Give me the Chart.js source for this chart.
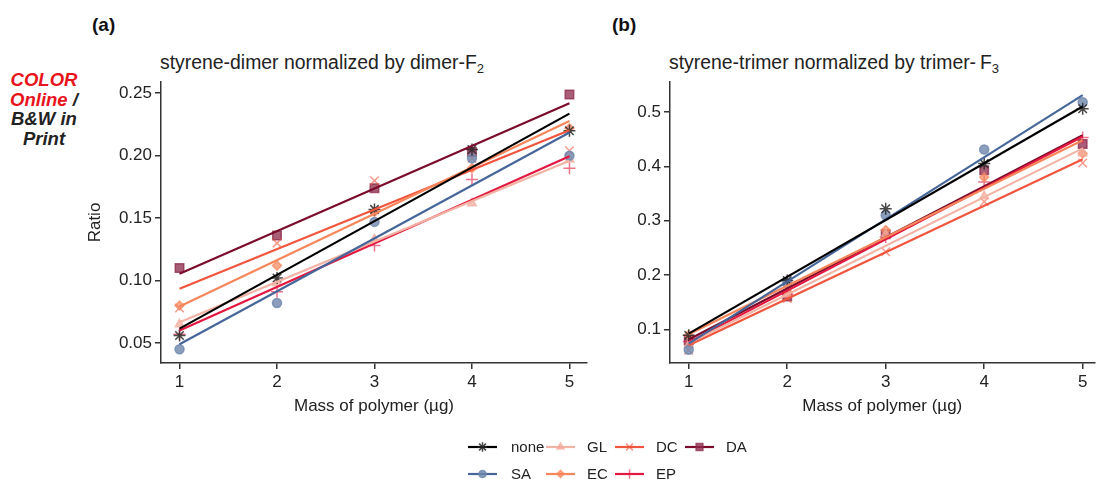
<!DOCTYPE html>
<html>
<head>
<meta charset="utf-8">
<script src="https://cdn.jsdelivr.net/npm/chart.js@4.4.1/dist/chart.umd.min.js"></script>
<style>
body { margin: 0; background: #fff; font-family: "Liberation Sans", Arial, sans-serif; color: #222; }
#wrap { position: relative; width: 1102px; height: 479px; overflow: hidden; }
canvas { position: absolute; }
.panel { position: absolute; font-weight: bold; font-size: 19px; color: #111; }
.title { position: absolute; font-size: 19.4px; color: #222; white-space: nowrap; }
.title sub { font-size: 13px; vertical-align: -4px; }
#note { position: absolute; left: 0; top: 70px; width: 88px; text-align: center;
        font-weight: bold; font-style: italic; font-size: 18.5px; line-height: 19.7px; color: #222; }
#note .red { color: #e8141c; }
</style>
</head>
<body>
<div id="wrap">
  <div id="note"><span class="red">COLOR</span><br><span class="red">Online</span> /<br>B&amp;W in<br>Print</div>
  <div class="panel" style="left:92px;top:14px;">(a)</div>
  <div class="panel" style="left:612px;top:14px;">(b)</div>
  <div class="title" style="left:160px;top:51px;">styrene-dimer normalized by dimer-F<sub>2</sub></div>
  <div class="title" style="left:669px;top:51px;">styrene-trimer normalized by trimer-&thinsp;F<sub>3</sub></div>
  <canvas id="chartA" width="600" height="430" style="left:0;top:0;"></canvas>
  <canvas id="chartB" width="502" height="430" style="left:600px;top:0;"></canvas>
  <canvas id="legend" width="340" height="49" style="left:440px;top:430px;"></canvas>
</div>
<script>
// x positions (mass of polymer, ug) and the ends of the fitted lines
const xValues = [1, 2, 3, 4, 5];
const fitX = [1, 5];

const seriesNames = ['none', 'SA', 'GL', 'EC', 'DC', 'EP', 'DA'];
const lineColors = ['#000000', '#46669a', '#f3b3a4', '#f7865a', '#f1553d', '#e3173f', '#7b0c2c'];
const markerColors = ['rgba(40,40,40,0.85)', 'rgba(110,135,172,0.8)', 'rgba(243,170,155,0.7)',
                      'rgba(247,134,90,0.7)', 'rgba(241,85,61,0.6)', 'rgba(227,23,63,0.6)', 'rgba(140,40,75,0.75)'];
const markerStyles = ['star', 'circle', 'triangle', 'rectRot', 'crossRot', 'cross', 'rect'];
const markerSizes = [6, 4.5, 5, 4.5, 6, 6, 6];

// (a) styrene-dimer / dimer-F2
const dimerNone = [0.056, 0.102, 0.157, 0.205, 0.220];
const dimerSA   = [0.045, 0.082, 0.147, 0.198, 0.200];
const dimerGL   = [0.065, 0.098, 0.133, 0.162, 0.197];
const dimerEC   = [0.080, 0.112, 0.155, 0.190, 0.222];
const dimerDC   = [0.078, 0.130, 0.180, 0.198, 0.204];
const dimerEP   = [0.057, 0.091, 0.128, 0.181, 0.190];
const dimerDA   = [0.110, 0.136, 0.174, 0.203, 0.249];

const dimerFitNone = [0.0615, 0.2337];
const dimerFitSA   = [0.049, 0.2185];
const dimerFitGL   = [0.0667, 0.196];
const dimerFitEC   = [0.0793, 0.2278];
const dimerFitDC   = [0.0935, 0.2204];
const dimerFitEP   = [0.060, 0.1995];
const dimerFitDA   = [0.1055, 0.242];

// (b) styrene-trimer / trimer-F3
const trimerNone = [0.0895, 0.190, 0.322, 0.405, 0.506];
const trimerSA   = [0.063, 0.185, 0.310, 0.431, 0.518];
const trimerGL   = [0.072, 0.165, 0.275, 0.345, 0.424];
const trimerEC   = [0.090, 0.170, 0.283, 0.380, 0.4235];
const trimerDC   = [0.062, 0.157, 0.243, 0.335, 0.406];
const trimerEP   = [0.078, 0.165, 0.270, 0.371, 0.453];
const trimerDA   = [0.080, 0.161, 0.275, 0.393, 0.441];

const trimerFitNone = [0.0926, 0.510];
const trimerFitSA   = [0.0743, 0.531];
const trimerFitGL   = [0.075, 0.433];
const trimerFitEC   = [0.0914, 0.448];
const trimerFitDC   = [0.071, 0.413];
const trimerFitEP   = [0.077, 0.455];
const trimerFitDA   = [0.0816, 0.457];

// tick labels
const xTicks = [1, 2, 3, 4, 5];
const yTicksA = [0.05, 0.10, 0.15, 0.20, 0.25];
const yTicksB = [0.1, 0.2, 0.3, 0.4, 0.5];

const dimerPoints = [dimerNone, dimerSA, dimerGL, dimerEC, dimerDC, dimerEP, dimerDA];
const dimerFits = [dimerFitNone, dimerFitSA, dimerFitGL, dimerFitEC, dimerFitDC, dimerFitEP, dimerFitDA];
const trimerPoints = [trimerNone, trimerSA, trimerGL, trimerEC, trimerDC, trimerEP, trimerDA];
const trimerFits = [trimerFitNone, trimerFitSA, trimerFitGL, trimerFitEC, trimerFitDC, trimerFitEP, trimerFitDA];

const FONT = '"Liberation Sans", Arial, sans-serif';
const AXIS = '#333333';

function buildDatasets(points, fits) {
    const sets = [];
    seriesNames.forEach((name, i) => {
        sets.push({
            label: name + ' fit',
            type: 'line',
            data: fitX.map((x, k) => ({x: x, y: fits[i][k]})),
            borderColor: lineColors[i],
            borderWidth: 2.2,
            pointRadius: 0,
            order: 0
        });
        sets.push({
            label: name,
            type: 'scatter',
            data: xValues.map((x, k) => ({x: x, y: points[i][k]})),
            pointStyle: markerStyles[i],
            pointRadius: markerSizes[i],
            backgroundColor: markerColors[i],
            borderColor: markerColors[i],
            borderWidth: 1.5,
            order: 1
        });
    });
    return sets;
}

function makeChart(id, points, fits, opts) {
    const ctx = document.getElementById(id).getContext('2d');
    return new Chart(ctx, {
        type: 'scatter',
        data: { datasets: buildDatasets(points, fits) },
        options: {
            responsive: false,
            animation: false,
            events: [],
            layout: { padding: opts.padding },
            plugins: { legend: { display: false }, tooltip: { enabled: false } },
            scales: {
                x: {
                    type: 'linear',
                    min: 0.81,
                    max: opts.xMax,
                    afterBuildTicks: scale => { scale.ticks = xTicks.map(v => ({value: v})); },
                    afterFit: scale => { scale.height = 67; },
                    ticks: { font: { family: FONT, size: 17 }, color: '#222', padding: 3 },
                    grid: { drawOnChartArea: false, drawTicks: true, tickLength: 6, color: AXIS, lineWidth: 1.5 },
                    border: { color: AXIS, width: 1.5 },
                    title: {
                        display: true, text: 'Mass of polymer (µg)',
                        font: { family: FONT, size: 17 }, color: '#222', padding: 13
                    }
                },
                y: {
                    type: 'linear',
                    min: opts.yMin,
                    max: opts.yMax,
                    afterBuildTicks: scale => { scale.ticks = opts.yTicks.map(v => ({value: v})); },
                    afterFit: scale => { scale.width = opts.yWidth; },
                    ticks: {
                        font: { family: FONT, size: 17 }, color: '#222', padding: 3,
                        callback: v => v.toFixed(opts.decimals)
                    },
                    grid: { drawOnChartArea: false, drawTicks: true, tickLength: 6, color: AXIS, lineWidth: 1.5 },
                    border: { color: AXIS, width: 1.5 },
                    title: {
                        display: opts.yTitle !== '', text: opts.yTitle,
                        font: { family: FONT, size: 17 }, color: '#222', padding: 5
                    }
                }
            }
        }
    });
}

makeChart('chartA', dimerPoints, dimerFits, {
    padding: { left: 80, top: 82, right: 13, bottom: 0 },
    xMax: 5.18, yMin: 0.034, yMax: 0.259, yTicks: yTicksA, decimals: 2, yWidth: 81, yTitle: 'Ratio'
});
makeChart('chartB', trimerPoints, trimerFits, {
    padding: { left: 0, top: 82, right: 2, bottom: 0 },
    xMax: 5.12, yMin: 0.0386, yMax: 0.555, yTicks: yTicksB, decimals: 1, yWidth: 70, yTitle: ''
});

// legend: 2 rows, filled column by column like the original
function drawLegend() {
    const lc = document.getElementById('legend').getContext('2d');
    const glyphX = [28, 106, 175, 245];
    const textX = [71, 147, 216, 286];
    const rowY = [17, 44];
    lc.font = '15px ' + FONT;
    lc.textBaseline = 'middle';
    seriesNames.forEach((name, i) => {
        const col = Math.floor(i / 2), row = i % 2;
        const gx = glyphX[col], y = rowY[row];
        lc.strokeStyle = lineColors[i];
        lc.lineWidth = 2.2;
        lc.beginPath();
        lc.moveTo(gx, y);
        lc.lineTo(gx + 29, y);
        lc.stroke();
        lc.fillStyle = markerColors[i];
        lc.strokeStyle = markerColors[i];
        lc.lineWidth = 1.5;
        if (Chart.helpers && Chart.helpers.drawPoint) {
            Chart.helpers.drawPoint(lc, {
                pointStyle: markerStyles[i], radius: markerSizes[i] * 0.8, rotation: 0, borderWidth: 1.5
            }, gx + 14.5, y);
        }
        lc.fillStyle = '#222';
        lc.fillText(name, textX[col], y + 1);
    });
}
drawLegend();
</script>
</body>
</html>
